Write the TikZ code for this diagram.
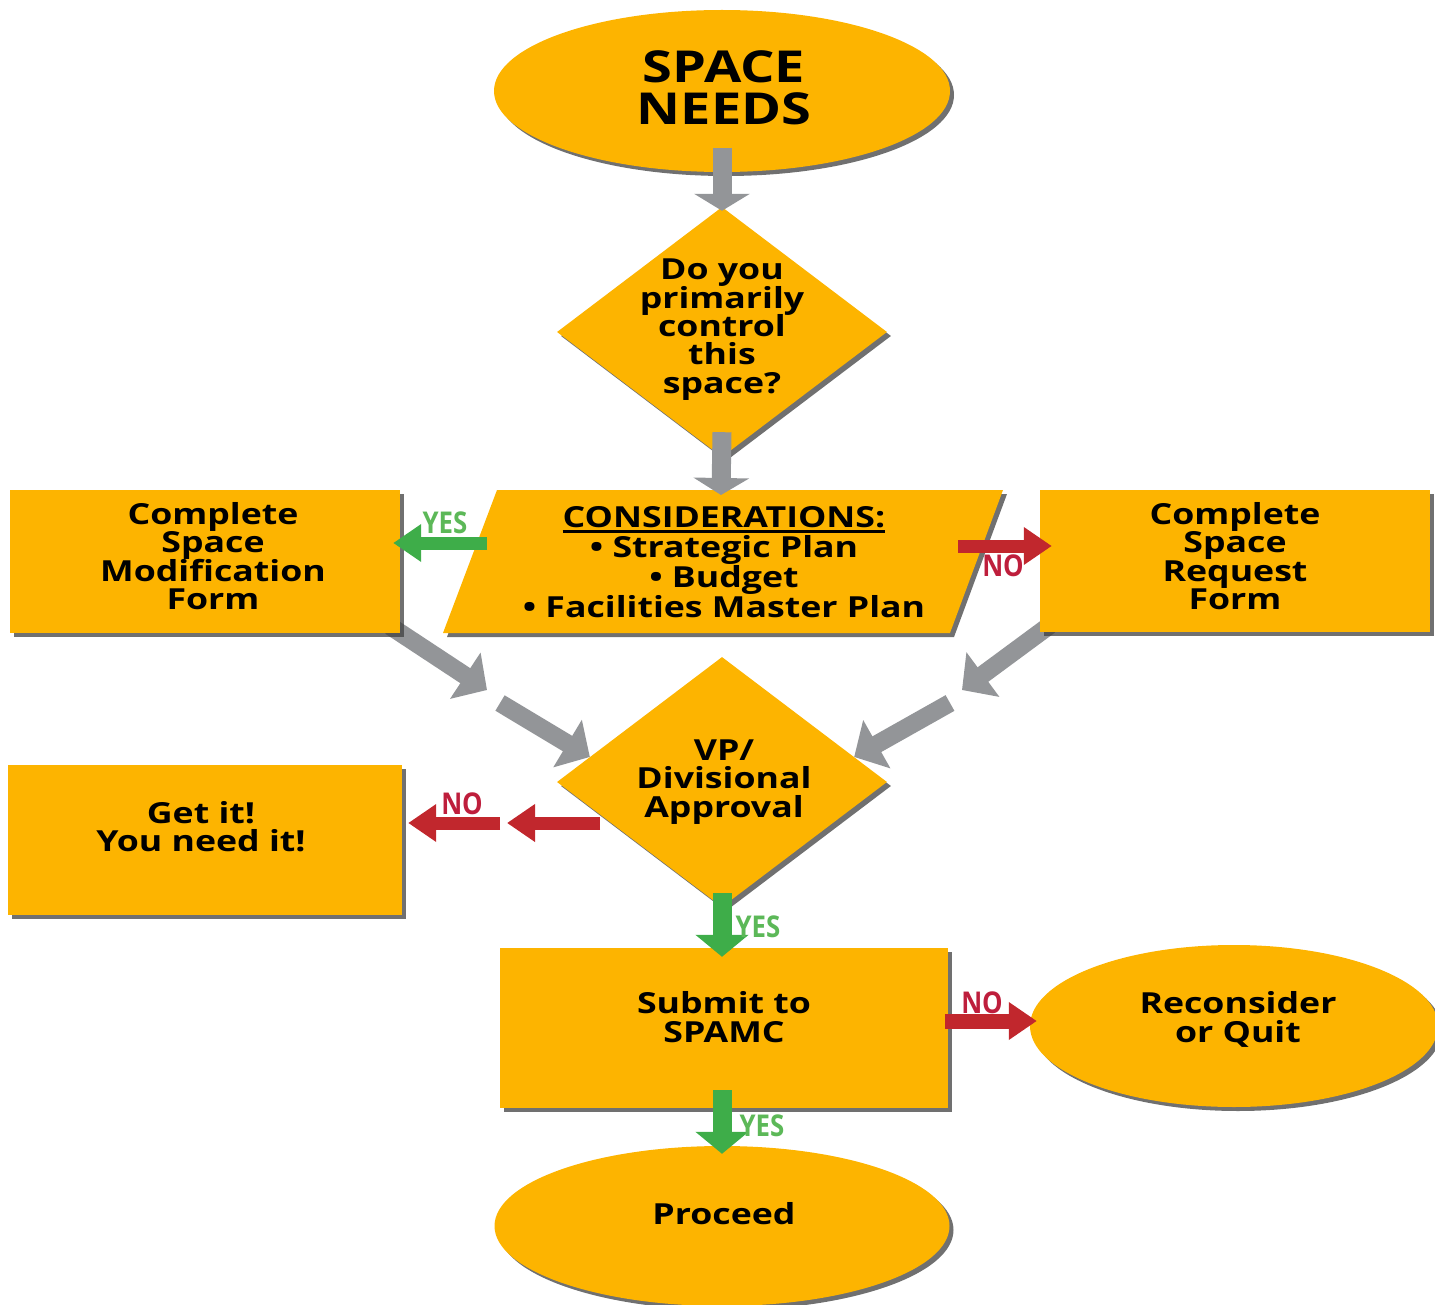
\documentclass[tikz,border=0pt]{standalone}
\usepackage{fontspec}
\setmainfont{Open Sans}[FakeStretch=1.23]
\newfontfamily\labfont{Open Sans}[FakeStretch=0.86]
\usetikzlibrary{shapes.geometric,arrows.meta,shadows,calc,backgrounds}
\definecolor{gold}{RGB}{253,180,0}
\definecolor{agray}{RGB}{147,149,152}
\definecolor{agreen}{RGB}{62,173,73}
\definecolor{ared}{RGB}{193,39,45}
\definecolor{lgreen}{RGB}{92,184,88}
\definecolor{lred}{RGB}{190,30,60}
\newcommand\mlines[2]{\vtop{\baselineskip=#1\lineskiplimit=-100pt\lineskip=0pt\halign{\hfil##\hfil\cr#2\crcr}}}
\begin{document}
\begin{tikzpicture}[x=1pt,y=-1pt,
  shd/.style={drop shadow={shadow xshift=4pt,shadow yshift=-4pt,fill=black!75,opacity=.75}},
  box/.style={rectangle,fill=gold,inner sep=0,shd},
  oval/.style={ellipse,fill=gold,inner sep=0,shd},
  dia/.style={diamond,fill=gold,inner sep=0,minimum width=330,minimum height=250,shd},
  txt/.style={inner sep=0,anchor=base,font=\bfseries\fontsize{29}{29}\selectfont},
  big/.style={inner sep=0,anchor=base,font=\bfseries\fontsize{44}{44}\selectfont},
  lab/.style={inner sep=0,anchor=base,font=\labfont\bfseries\fontsize{30}{30}\selectfont},
  yes/.style={lab,text=lgreen},
  no/.style={lab,text=lred},
  grayarr/.style={draw=agray,line width=19pt,-{Triangle[length=17pt,width=55pt]}},
  diagarr/.style={draw=agray,line width=18pt,-{Triangle[length=26pt,width=54pt]}},
  harr/.style={line width=13pt,-{Triangle[length=28pt,width=36pt]}},
  varr/.style={draw=agreen,line width=19pt,-{Triangle[length=22pt,width=52pt]}}
]
\useasboundingbox (0,0) rectangle (1435,1305);

% shapes
\node[oval,minimum width=456,minimum height=162] (needs) at (722,91) {};
\node[dia] (q1) at (722,332) {};
\fill[gold,shd] (497,490) -- (1003,490) -- (950,633) -- (443,633) -- cycle;
\node[box,minimum width=390,minimum height=143] (mod) at (205,561.5) {};
\node[box,minimum width=390,minimum height=142] (req) at (1235,561) {};
\node[dia] (vp) at (722,782) {};
\node[box,minimum width=394,minimum height=150] (get) at (205,840) {};
\node[box,minimum width=448,minimum height=160] (sub) at (724,1028) {};
\node[oval,minimum width=408,minimum height=162] (rec) at (1234,1026) {};
\node[oval,minimum width=455,minimum height=160] (proc) at (722,1226) {};

% coordinates for connectors
\coordinate (ctop) at (721,495);
\coordinate (yl) at (487,543);
\coordinate (nr) at (958,546);
\coordinate (la) at (487,690);
\coordinate (lb) at (500,703);
\coordinate (ra) at (962,690);
\coordinate (rb) at (950,703);
\coordinate (v1) at (600,823);
\coordinate (v2) at (507,823);
\coordinate (v3) at (500,823);
\coordinate (sr) at (945,1021);

% diagonal arrows (behind boxes)
\begin{scope}[on background layer]
  \draw[diagarr] ($(mod.south east)+(-10,-7)$) -- (la);
  \draw[diagarr] (lb) -- ($(vp.west)!0.2!(vp.north)$);
  \draw[diagarr] ($(req.south west)+(10,-7)$) -- (ra);
  \draw[diagarr] (rb) -- ($(vp.east)!0.2!(vp.north)$);
\end{scope}

% other arrows
\draw[grayarr] ($(needs.south)+(0,-24)$) -- ($(q1.north)+(0,4)$);
\draw[grayarr] ($(q1.south)+(0,-25)$) -- (ctop);
\draw[harr,draw=agreen] (yl) -- ($(yl -| mod.east)+(-7,0)$);
\draw[harr,draw=ared] (nr) -- ($(nr -| req.west)+(12,0)$);
\draw[harr,draw=ared] (v1) -- (v2);
\draw[harr,draw=ared] (v3) -- ($(v3 -| get.east)+(6,0)$);
\draw[varr] ($(vp.south)+(0,-14)$) -- ($(vp.south |- sub.north)+(0,9)$);
\draw[harr,draw=ared,line width=15pt] (sr) -- ($(sr -| rec.west)+(7,0)$);
\draw[varr] ($(proc.north |- sub.south)+(0,-18)$) -- ($(proc.north)+(0,8)$);

% texts
\node[big] (tneeds) at (724,83) {\mlines{42pt}{SPACE\cr NEEDS}};
\node[txt] (tq1) at (722,280) {\mlines{28.3pt}{Do you\cr primarily\cr control\cr this\cr space?}};
\node[txt] (tmod) at (213,524) {\mlines{28.5pt}{Complete\cr Space\cr Modification\cr Form}};
\node[txt] (treq) at (1235,524) {\mlines{28.5pt}{Complete\cr Space\cr Request\cr Form}};
\node[txt] (tcons) at (724,527) {\mlines{30pt}{\vtop{\hbox{CONSIDERATIONS:}\kern3pt\hrule height 2.5pt}\cr • Strategic Plan\cr • Budget\cr • Facilities Master Plan}};
\node[txt] (tvp) at (724,760) {\mlines{28.5pt}{VP/\cr Divisional\cr Approval}};
\node[txt] (tget) at (201,823) {\mlines{28pt}{Get it!\cr You need it!}};
\node[txt] (tsub) at (724,1013) {\mlines{29pt}{Submit to\cr SPAMC}};
\node[txt] (trec) at (1238,1013) {\mlines{29pt}{Reconsider\cr or Quit}};
\node[txt] (tproc) at (724,1224) {Proceed};

% labels
\node[yes] (l1) at (445,533) {YES};
\node[no] (l2) at (1003,576) {NO};
\node[no] (l3) at (462,814) {NO};
\node[yes] (l4) at (758,937) {YES};
\node[no] (l5) at (982,1013) {NO};
\node[yes] (l6) at (762,1136) {YES};
\end{tikzpicture}
\end{document}
